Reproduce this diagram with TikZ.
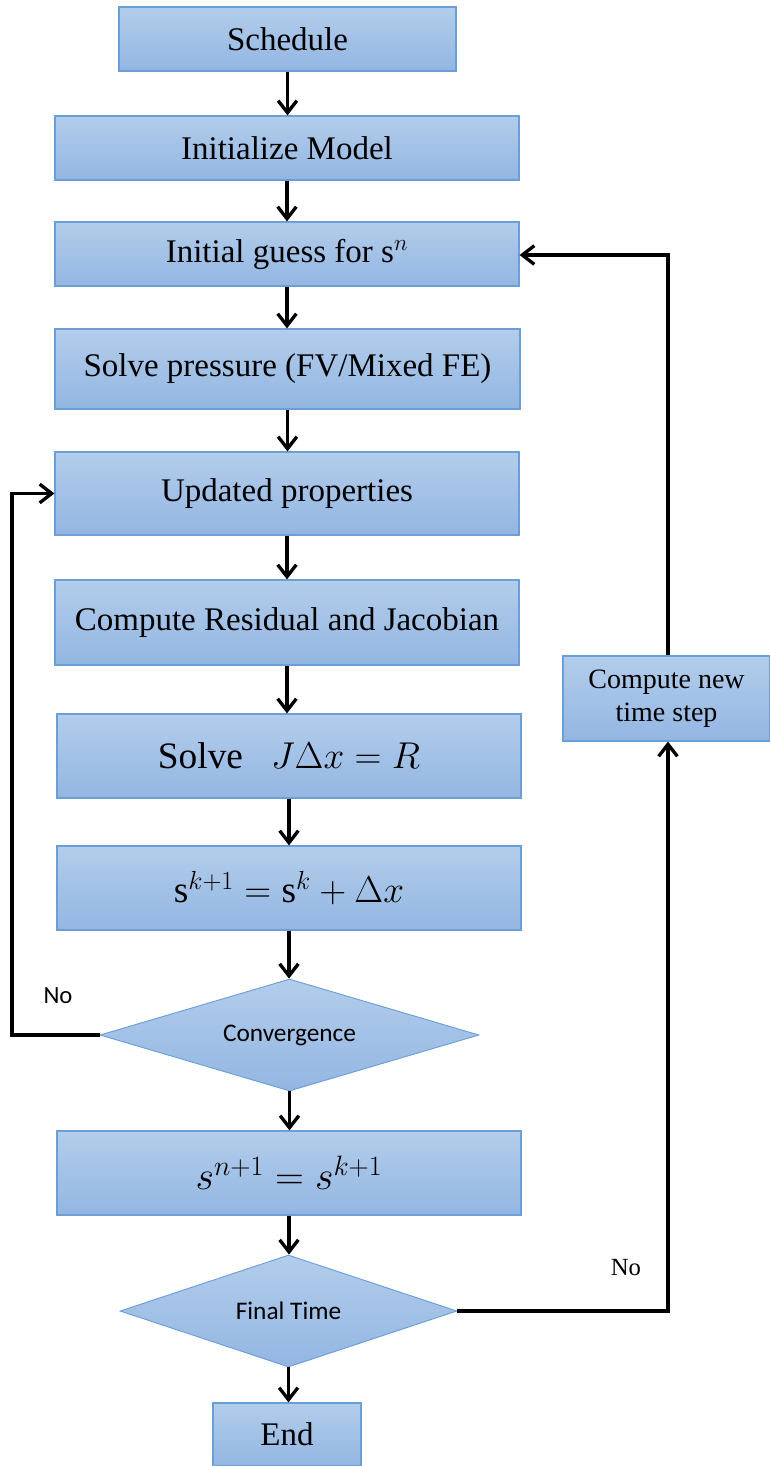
\documentclass[tikz,border=0pt]{standalone}
\usepackage{fix-cm}
\usepackage{fontspec}
\setmainfont{Liberation Serif}
\newfontfamily\carlito{Carlito}
\usetikzlibrary{shapes.geometric,arrows.meta}
\definecolor{boxtop}{HTML}{B3CDEB}
\definecolor{boxbot}{HTML}{93B6E2}
\definecolor{boxline}{HTML}{6C9FD8}
\tikzset{
  sz/.style 2 args={minimum width=#1*0.75pt, minimum height=#2*0.75pt},
  box/.style={rectangle, draw=boxline, line width=0.9pt, top color=boxtop, bottom color=boxbot, inner sep=0pt, align=center, font=\fontsize{24.75}{30}\selectfont},
  dia/.style={diamond, draw=boxline, line width=0.7pt, top color=boxtop, bottom color=boxbot, inner sep=0pt, font=\carlito\fontsize{19}{23}\selectfont},
  arr/.style={line width=2.5pt, -{Straight Barb[length=9pt,width=14pt,line width=2.5pt]}},
  eqfont/.style={font=\fontsize{28}{32}\selectfont}
}
\begin{document}
\begin{tikzpicture}[x=0.75pt,y=-0.75pt]
\useasboundingbox (0,0) rectangle (770,1466);
\node[box, sz={337}{64}] (sched) at (287.5,39) {Schedule};
\node[box, sz={464}{64}] (init) at (287,148) {Initialize Model};
\node[box, sz={464}{64}] (guess) at (287,254) {Initial guess for $\mathrm{s}^{n}$};
\node[box, sz={465}{80}] (press) at (287.5,369) {Solve pressure (FV/Mixed FE)};
\node[box, sz={464}{83}] (upd) at (287,493.5) {Updated properties};
\node[box, sz={464}{85}] (res) at (287,622.5) {Compute Residual and Jacobian};
\node[box, sz={464}{84}, eqfont] (solve) at (289,756) {Solve\ \ \ $J\Delta x=R$};
\node[box, sz={464}{84}, eqfont] (sk) at (289,888) {$\mathrm{s}^{k+1}=\mathrm{s}^{k}+\Delta x$};
\node[dia, sz={379}{112}, shape aspect=3.38] (conv) at (289.5,1035) {Convergence};
\node[box, sz={464}{84}, font=\fontsize{30}{34}\selectfont] (sn) at (289,1173) {$s^{n+1}=s^{k+1}$};
\node[dia, sz={337}{112}, shape aspect=3.0] (ft) at (288.5,1311) {Final Time};
\node[box, sz={148}{63}] (end) at (287,1434.5) {End};
\node[box, sz={207}{85}, font=\fontsize{21}{26}\selectfont] (cnt) at (666.5,698.5) {Compute new\\[-1pt]time step};
\node[font=\carlito\fontsize{18.5}{22}\selectfont] (no1) at (58,996) {No};
\node[font=\fontsize{18.5}{22}\selectfont] (no2) at (626,1268) {No};
\draw[arr] (sched.south) -- (sched.south |- init.north);
\draw[arr] (init.south) -- (init.south |- guess.north);
\draw[arr] (guess.south) -- (guess.south |- press.north);
\draw[arr] (press.south) -- (press.south |- upd.north);
\draw[arr] (upd.south) -- (upd.south |- res.north);
\draw[arr] (res.south) -- (res.south |- solve.north);
\draw[arr] (solve.south) -- (solve.south |- sk.north);
\draw[arr] (sk.south) -- (sk.south |- conv.north);
\draw[arr] (conv.south) -- (conv.south |- sn.north);
\draw[arr] (sn.south) -- (sn.south |- ft.north);
\draw[arr] (ft.south) -- (ft.south |- end.north);
\coordinate (lp) at (12,1035);
\draw[arr] (conv.west) -- (lp) |- (upd.west);
\coordinate (rp) at (668,1311);
\draw[arr] (ft.east) -- (rp) -- (rp |- cnt.south);
\coordinate (rt) at (668,255);
\draw[arr] (cnt.north -| rt) -- (rt) -- (guess.east |- rt);
\end{tikzpicture}
\end{document}
